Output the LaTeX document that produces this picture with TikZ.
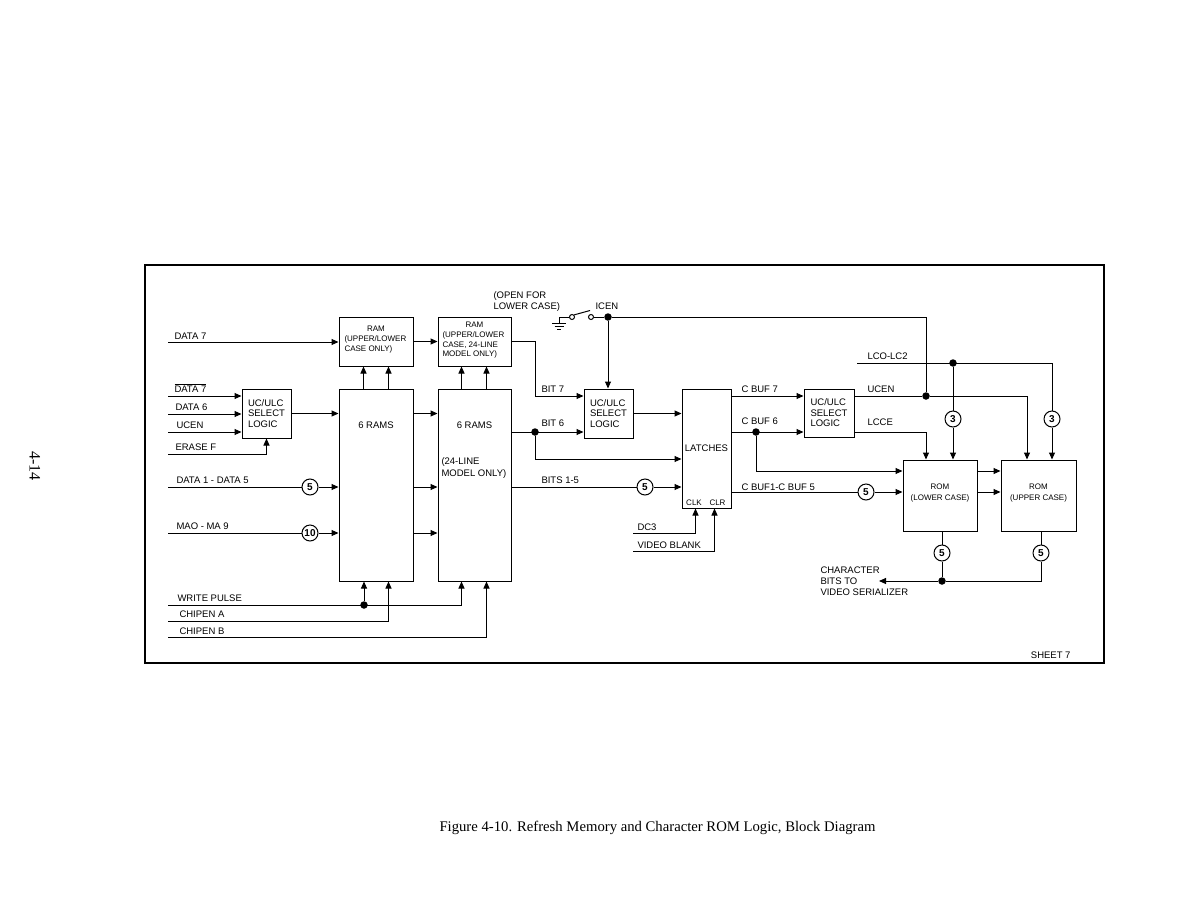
\documentclass[tikz,border=0pt]{standalone}
\usepackage{fontspec}
\setmainfont{Liberation Sans}
\newfontfamily\capfont{Liberation Serif}
\usetikzlibrary{arrows.meta}
\begin{document}
\begin{tikzpicture}[x=1pt,y=-1pt,
  line width=1pt,
  arr/.style={-{Triangle[length=7pt,width=6pt]}},
  box/.style={draw, rectangle, inner sep=0pt},
  lbl/.style={font=\fontsize{9.5}{10.5}\selectfont, anchor=base west, inner sep=0pt},
  small/.style={font=\fontsize{8}{9.5}\selectfont, inner sep=0pt, anchor=base},
  smallw/.style={font=\fontsize{8}{9.5}\selectfont, inner sep=0pt, anchor=base west},
  blk/.style={font=\fontsize{9.5}{10.5}\selectfont, align=left},
  circ/.style={draw, circle, minimum size=16pt, inner sep=0pt, font=\fontsize{10}{10}\selectfont\bfseries},
  dot/.style={circle, fill, inner sep=0pt, minimum size=7.5pt},
  swc/.style={draw, circle, minimum size=5pt, inner sep=0pt, fill=white}
]
\useasboundingbox (0,0) rectangle (1188,918);
\fill[white] (0,0) rectangle (1188,918);
\draw[line width=1.3pt] (145,265) rectangle (1104,663);

% ---------------- boxes
\node[box, minimum width=74pt, minimum height=49pt] (ram1) at (376,341.5) {};
\node[box, minimum width=73pt, minimum height=49pt] (ram2) at (474.5,341.5) {};
\node[box, minimum width=49pt, minimum height=49pt, blk] (ucl1) at (266.5,413.5) {UC/ULC\\SELECT\\LOGIC};
\node[box, minimum width=74pt, minimum height=192pt] (rams1) at (376,485) {};
\node[box, minimum width=73pt, minimum height=192pt] (rams2) at (474.5,485) {};
\node[box, minimum width=49pt, minimum height=49pt, blk] (ucl2) at (608.5,413.5) {UC/ULC\\SELECT\\LOGIC};
\node[box, minimum width=49pt, minimum height=119pt] (latch) at (706.5,448.5) {};
\node[box, minimum width=50pt, minimum height=48pt, blk] (ucl3) at (829,413) {UC/ULC\\SELECT\\LOGIC};
\node[box, minimum width=74pt, minimum height=71pt] (rom1) at (940,495.5) {};
\node[box, minimum width=75pt, minimum height=71pt] (rom2) at (1038.5,495.5) {};

% ---------------- box texts
\node[small] (ram1t1) at (376,331.5) {RAM};
\node[smallw] (ram1t2) at (344,341.5) {(UPPER/LOWER};
\node[smallw] (ram1t3) at (344,351.5) {CASE ONLY)};
\node[small] (ram2t1) at (474.5,327.5) {RAM};
\node[smallw] (ram2t2) at (442,337.5) {(UPPER/LOWER};
\node[smallw] (ram2t3) at (442,347) {CASE, 24-LINE};
\node[smallw] (ram2t4) at (442,356.5) {MODEL ONLY)};
\node[lbl, anchor=base] (rams1t) at (376,428.5) {6 RAMS};
\node[lbl, anchor=base] (rams2t) at (474.5,428.5) {6 RAMS};
\node[lbl] (rams2t2) at (441,464) {(24-LINE};
\node[lbl] (rams2t3) at (441,476) {MODEL ONLY)};
\node[lbl, anchor=center] (latcht) at (706.5,448) {LATCHES};
\node[small] (clk) at (694,505) {CLK};
\node[small] (clr) at (717.5,505) {CLR};
\node[small] (rom1t1) at (940,489.5) {ROM};
\node[small] (rom1t2) at (940,500.5) {(LOWER CASE)};
\node[small] (rom2t1) at (1038.5,489.5) {ROM};
\node[small] (rom2t2) at (1038.5,500.5) {(UPPER CASE)};

% ---------------- left inputs
\coordinate (iD7) at (168,342);
\draw[arr] (iD7) -- (iD7 -| ram1.west);
\node[lbl] (tD7) at (174,339) {DATA 7};
\draw[arr] (ram1.east) -- (ram2.west);

\coordinate (iD7b) at (168,396);
\draw[arr] (iD7b) -- (iD7b -| ucl1.west);
\node[lbl] (tD7b) at (174,392.5) {$\overline{\mbox{DATA 7}}$};
\coordinate (iD6) at (168,414);
\draw[arr] (iD6) -- (iD6 -| ucl1.west);
\node[lbl] (tD6) at (175,410.5) {DATA 6};
\coordinate (iUC) at (168,432);
\draw[arr] (iUC) -- (iUC -| ucl1.west);
\node[lbl] (tUC) at (176,428.5) {UCEN};
\coordinate (iEF) at (168,454);
\draw[arr] (iEF) -| (ucl1.south);
\node[lbl] (tEF) at (175,450.5) {ERASE F};

\draw[arr] (ucl1.east) -- (ucl1.east -| rams1.west);

\draw[arr] ([xshift=25pt]rams1.north west) -- ([xshift=25pt]ram1.south west);
\draw[arr] ([xshift=50pt]rams1.north west) -- ([xshift=50pt]ram1.south west);
\draw[arr] ([xshift=24pt]rams2.north west) -- ([xshift=24pt]ram2.south west);
\draw[arr] ([xshift=49pt]rams2.north west) -- ([xshift=49pt]ram2.south west);

\coordinate (iD15) at (168,487);
\node[circ] (c5a) at (310,487) {5};
\draw (iD15) -- (c5a);
\draw[arr] (c5a) -- (c5a -| rams1.west);
\node[lbl] (tD15) at (176,483) {DATA 1 - DATA 5};

\coordinate (iMA) at (168,533);
\node[circ] (c10) at (310,533) {10};
\draw (iMA) -- (c10);
\draw[arr] (c10) -- (c10 -| rams1.west);
\node[lbl] (tMA) at (176,529.5) {MAO - MA 9};

\draw[arr] (rams1.east |- ucl1.east) -- (rams2.west |- ucl1.east);
\draw[arr] (rams1.east |- c5a) -- (rams2.west |- c5a);
\draw[arr] (rams1.east |- c10) -- (rams2.west |- c10);

\coordinate (iWP) at (168,605);
\coordinate (iCA) at (168,621);
\coordinate (iCB) at (168,637);
\draw[arr] (iWP) -| ([xshift=24pt]rams2.south west);
\node[dot] (dWP) at (364,605) {};
\draw[arr] (dWP) -- (dWP |- rams1.south);
\draw[arr] (iCA) -| ([xshift=50pt]rams1.south west);
\draw[arr] (iCB) -| ([xshift=49pt]rams2.south west);
\node[lbl] (tWP) at (177,601.5) {WRITE PULSE};
\node[lbl] (tCA) at (179,617.5) {CHIPEN A};
\node[lbl] (tCB) at (179,634) {CHIPEN B};

% ---------------- middle
\coordinate (b7) at (535,396);
\draw[arr] (ram2.east) -| (b7) -- (b7 -| ucl2.west);
\node[lbl] (tB7) at (541,392) {BIT 7};
\node[dot] (db6) at (535,432) {};
\draw[arr] (db6 -| rams2.east) -- (db6 -| ucl2.west);
\coordinate (b6d) at (535,459);
\draw[arr] (db6) -- (b6d) -- (b6d -| latch.west);
\node[lbl] (tB6) at (541,426) {BIT 6};
\node[circ] (c5b) at (645,487) {5};
\draw (rams2.east |- c5b) -- (c5b);
\draw[arr] (c5b) -- (c5b -| latch.west);
\node[lbl] (tB15) at (541,483) {BITS 1-5};
\draw[arr] (ucl2.east) -- (ucl2.east -| latch.west);

% switch and ground
\coordinate (gnd) at (559,317);
\node[swc] (sw1) at (572,317) {};
\node[swc] (sw2) at (591,317) {};
\node[dot] (dICEN) at (608,317) {};
\coordinate (lev) at (590,310.5);
\draw (gnd) -- (sw1.west);
\draw (sw1.north east) -- (lev);
\draw (gnd) -- (559,323);
\draw (552,323) -- (566,323);
\draw (554.5,326) -- (563.5,326);
\draw (557,329) -- (561,329);
\draw (sw2.east) -- (dICEN);
\draw[arr] (dICEN) -- (dICEN |- ucl2.north);
\node[lbl] (tICEN) at (595,309) {ICEN};
\node[lbl] (tOpen1) at (493,298.5) {(OPEN FOR};
\node[lbl] (tOpen2) at (493,309.5) {LOWER CASE)};
\node[dot] (dUC) at (926,396) {};
\draw (dICEN) -| (dUC);

% latches outputs
\draw[arr] (latch.east |- b7) -- (ucl3.west |- b7);
\node[lbl] (tCB7) at (741,392) {C BUF 7};
\node[dot] (dcb6) at (756,432) {};
\draw[arr] (latch.east |- dcb6) -- (ucl3.west |- dcb6);
\node[lbl] (tCB6) at (741,424) {C BUF 6};
\coordinate (cb6d) at (756,471);
\draw[arr] (dcb6) -- (cb6d) -- (cb6d -| rom1.west);
\node[circ] (c5c) at (866,492) {5};
\draw (latch.east |- c5c) -- (c5c);
\draw[arr] (c5c) -- (c5c -| rom1.west);
\node[lbl] (tCB15) at (741,490) {C BUF1-C BUF 5};

\coordinate (iDC3) at (633,533);
\coordinate (iVB) at (633,551);
\draw[arr] (iDC3) -| ([xshift=14pt]latch.south west);
\draw[arr] (iVB) -| ([xshift=33pt]latch.south west);
\node[lbl] (tDC3) at (637,530) {DC3};
\node[lbl] (tVB) at (637,548) {VIDEO BLANK};

% ucl3 outputs
\coordinate (ucr) at (1027,396);
\draw (ucl3.east |- dUC) -- (dUC);
\draw[arr] (dUC) -- (ucr) -- (ucr |- rom2.north);
\node[lbl] (tUCEN) at (867,392) {UCEN};
\coordinate (lcr) at (926,432);
\draw[arr] (ucl3.east |- lcr) -- (lcr) -- (lcr |- rom1.north);
\node[lbl] (tLCCE) at (867,425) {LCCE};

\coordinate (lcoL) at (857,363);
\node[dot] (dLC) at (953,363) {};
\coordinate (lcoR) at (1052,363);
\node[circ] (c3a) at (953,419) {3};
\node[circ] (c3b) at (1052,419) {3};
\draw (lcoL) -- (lcoR) -- (c3b);
\draw[arr] (c3b) -- (c3b |- rom2.north);
\draw (dLC) -- (c3a);
\draw[arr] (c3a) -- (c3a |- rom1.north);
\node[lbl] (tLCO) at (867,359) {LCO-LC2};

\draw[arr] (rom1.east |- cb6d) -- (rom2.west |- cb6d);
\draw[arr] (rom1.east |- c5c) -- (rom2.west |- c5c);

% ROM outputs
\node[circ] (c5d) at (942,553) {5};
\node[circ] (c5e) at (1041,553) {5};
\node[dot] (dout) at (942,581) {};
\coordinate (outE) at (1041,581);
\coordinate (outW) at (879,581);
\draw (rom1.south -| c5d) -- (c5d) -- (dout);
\draw (rom2.south -| c5e) -- (c5e) -- (outE) -- (dout);
\draw[arr] (dout) -- (outW);
\node[lbl] (tCh1) at (820,573) {CHARACTER};
\node[lbl] (tCh2) at (820,584) {BITS TO};
\node[lbl] (tCh3) at (820,595) {VIDEO SERIALIZER};

\node[lbl, anchor=base east] (tSheet) at (1071,658) {SHEET 7};

% page texts
\node[font=\capfont\fontsize{14.7}{16}\selectfont, anchor=base, inner sep=0pt] (cap) at (657.5,831) {Figure 4-10. Refresh Memory and Character ROM Logic, Block Diagram};
\node[font=\capfont\fontsize{16}{16}\selectfont, rotate=-90, inner sep=0pt] (pg) at (35,466) {4-14};
\end{tikzpicture}
\end{document}
